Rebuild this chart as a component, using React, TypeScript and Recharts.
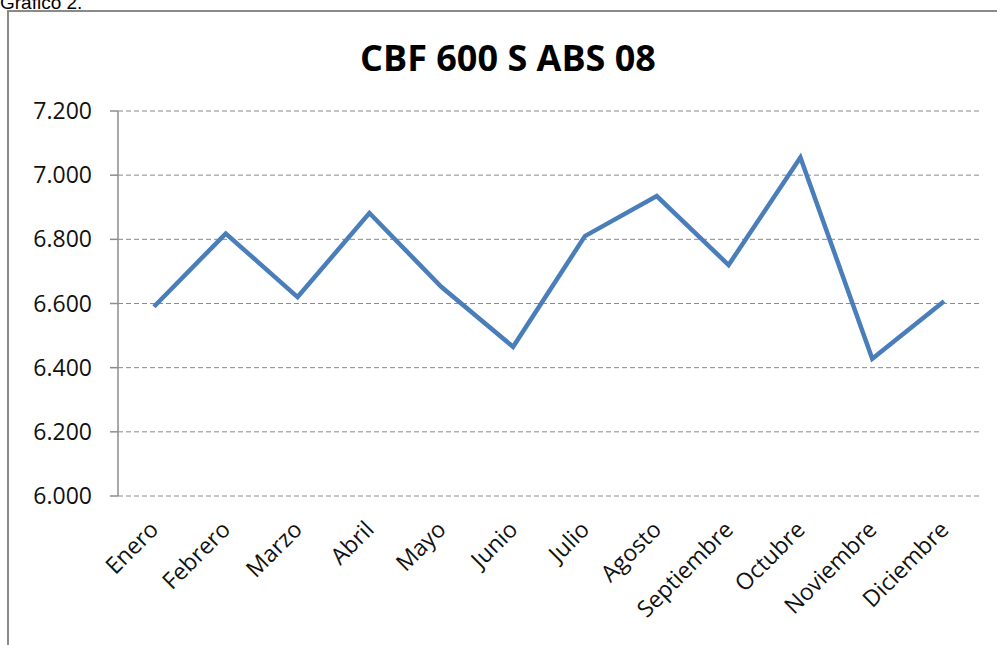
import React from 'react';
import { LineChart, Line, XAxis, YAxis, CartesianGrid } from 'recharts';

const MONTHS = ['Enero', 'Febrero', 'Marzo', 'Abril', 'Mayo', 'Junio', 'Julio', 'Agosto', 'Septiembre', 'Octubre', 'Noviembre', 'Diciembre'];
const VALUES = [6590, 6818, 6620, 6882, 6652, 6465, 6810, 6935, 6720, 7055, 6428, 6607];
const Y_TICKS = [6000, 6200, 6400, 6600, 6800, 7000, 7200];
const CENTER_TICKS = [0, 1, 2, 3, 4, 5, 6, 7, 8, 9, 10, 11];
const EDGE_TICKS = [-0.5, 0.5, 1.5, 2.5, 3.5, 4.5, 5.5, 6.5, 7.5, 8.5, 9.5, 10.5, 11.5];

const data = MONTHS.map((month, i) => ({ idx: i, month, value: VALUES[i] }));

// 7200 -> "7.200"
const fmtThousands = (v: number) => {
  const s = String(Math.round(v));
  return s.replace(/\B(?=(\d{3})+(?!\d))/g, '.');
};

const FONT = '"Open Sans", "DejaVu Sans", sans-serif';
const AXIS_GREY = '#8c8c8c';

const MonthTick = (props: any) => {
  const { x, y, payload } = props;
  const ax = x + 6;
  const ay = y + 35;
  return (
    <text
      x={ax}
      y={ay}
      transform={`rotate(-45, ${ax}, ${ay})`}
      textAnchor="end"
      fontFamily={FONT}
      fontSize={23}
      fill="#111"
    >
      {MONTHS[payload.value]}
    </text>
  );
};

export default function App() {
  return (
    <div style={{ position: 'absolute', left: 0, top: 0, width: 997, height: 645, overflow: 'hidden', background: '#fff' }}>
      <div
        style={{
          position: 'absolute',
          left: 0,
          top: -7,
          fontFamily: '"Liberation Sans", Arial, sans-serif',
          fontSize: 19,
          lineHeight: 1,
          color: '#000',
          whiteSpace: 'nowrap',
        }}
      >
        Gráfico 2.
      </div>
      {/* chart frame, runs off the page on right and bottom */}
      <div
        style={{
          position: 'absolute',
          left: 7,
          top: 10,
          width: 1100,
          height: 1000,
          border: '2px solid #8a8a8a',
        }}
      />
      <div
        style={{
          position: 'absolute',
          left: 0,
          width: 1016,
          top: 40,
          textAlign: 'center',
          fontFamily: FONT,
          fontWeight: 700,
          fontSize: 36,
          lineHeight: 1,
          color: '#000',
        }}
      >
        CBF 600 S ABS 08
      </div>
      <div style={{ position: 'absolute', left: 0, top: 0 }}>
        <LineChart width={997} height={645} data={data} margin={{ top: 111, right: 17, bottom: 0, left: 0 }}>
          <CartesianGrid vertical={false} stroke="#8a8a8a" strokeDasharray="5 3" />
          <XAxis
            xAxisId="edges"
            type="number"
            dataKey="idx"
            domain={[-0.5, 11.5]}
            ticks={EDGE_TICKS}
            tick={false}
            tickSize={7}
            height={0}
            stroke={AXIS_GREY}
            strokeWidth={1.5}
          />
          <XAxis
            xAxisId="labels"
            type="number"
            dataKey="idx"
            domain={[-0.5, 11.5]}
            ticks={CENTER_TICKS}
            interval={0}
            axisLine={false}
            tickLine={false}
            tickSize={0}
            tickMargin={0}
            height={149}
            tick={<MonthTick />}
          />
          <YAxis
            domain={[6000, 7200]}
            ticks={Y_TICKS}
            interval={0}
            width={118}
            tickSize={8}
            tickMargin={18}
            tickFormatter={fmtThousands}
            stroke={AXIS_GREY}
            strokeWidth={1.5}
            tick={{ fontFamily: FONT, fontSize: 23, fill: '#111' }}
          />
          <Line
            xAxisId="labels"
            type="linear"
            dataKey="value"
            stroke="#4a7ebb"
            strokeWidth={4.5}
            dot={false}
            isAnimationActive={false}
          />
        </LineChart>
      </div>
    </div>
  );
}
